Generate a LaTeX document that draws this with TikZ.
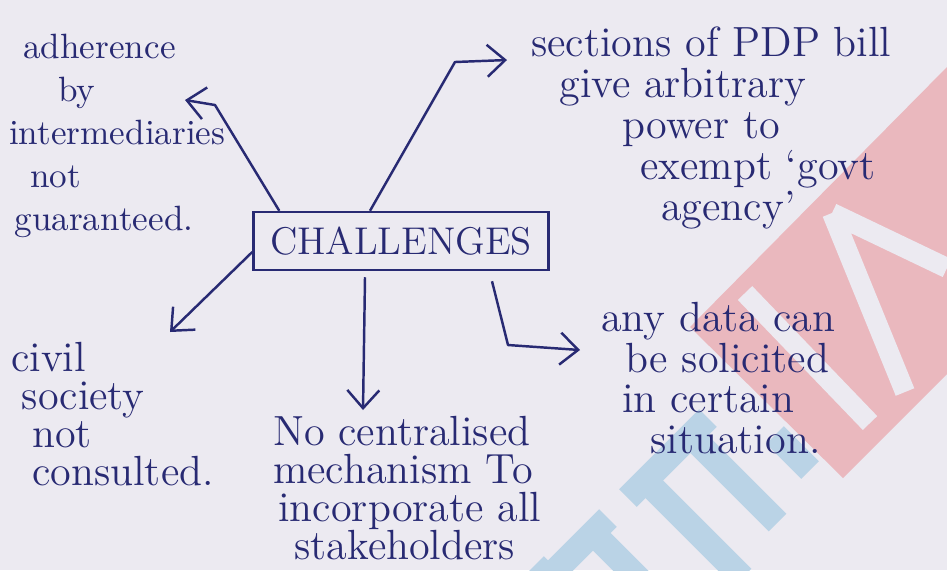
\documentclass[tikz,border=0pt]{standalone}
\usepackage{tikz}
\usetikzlibrary{positioning,arrows.meta}
\definecolor{ink}{RGB}{40,42,115}
\definecolor{paper}{RGB}{236,234,241}
\definecolor{wmpink}{RGB}{234,184,190}
\definecolor{wmblue}{RGB}{186,211,230}

\begin{document}
\begin{tikzpicture}[x=0.1mm,y=-0.1mm,>={Straight Barb[length=1.8mm,width=3.2mm]},
  line width=0.7pt,
  txt/.style={text=ink,font=\fontsize{12}{11.6}\selectfont,inner sep=0pt,
    align=left,anchor=west},
  hub/.style={draw=ink,text=ink,minimum width=29.5mm,minimum height=5.8mm,
    font=\fontsize{11}{11}\selectfont},
  link/.style={draw=ink,->,line join=round}]
  \fill[paper] (0,0) rectangle (947,570);
  \useasboundingbox (0,0) rectangle (947,570);
  % logo in the background
  \fill[wmpink] (947,67) -- (690,327) -- (843,478) -- (947,374) -- cycle;
  \draw[paper,line width=2mm] (832,213) -- (905,392) (832,213) -- (947,268)
    (745,293) -- (870,423);
  \foreach \off/\a/\b in {165/1110/1320,255/1120/1300,60/1110/1220,-30/1100/1160,340/1210/1280}
    \draw[wmblue,line width=2.5mm] ({(\a+\off)/2},{(\a-\off)/2}) -- ({(\b+\off)/2},{(\b-\off)/2});
  \draw[wmblue,line width=2.5mm] (628,498) -- (708,418) (538,588) -- (608,518);

  \node[hub] (chal) at (401,241) {CHALLENGES};
  \node[txt,font=\fontsize{10}{12.2}\selectfont] (adh) at (8,136)
    {\hspace{4pt}adherence\\ \hspace{14pt}by\\ intermediaries\\ \hspace{6pt}not\\ \hspace{1.5pt}guaranteed.};
  \node[txt] (sec) at (530,128)
    {sections of PDP bill\\ \hspace{8pt}give arbitrary\\ \hspace{26pt}power to\\
     \hspace{31pt}exempt `govt\\ \hspace{37pt}agency'};
  \node[txt,font=\fontsize{12}{10.8}\selectfont] (civ) at (10,414)
    {civil\\ \hspace{3pt}society\\ \hspace{6pt}not\\ \hspace{6pt}consulted.};
  \node[txt,font=\fontsize{12}{10.8}\selectfont] (cen) at (272,488)
    {No centralised\\ mechanism To\\ \hspace{1.5pt}incorporate all\\ \hspace{6pt}stakeholders};
  \node[txt] (dat) at (600,378) {any data can\\ \hspace{7pt}be solicited\\ \hspace{6pt}in certain\\ \hspace{14pt}situation.};

  \coordinate (adhBend) at (215,105);
  \coordinate (adhTip) at (185,100);
  \coordinate (secBend) at (455,62);
  \coordinate (secTip) at (507,60);
  \coordinate (civTip) at (170,332);
  \coordinate (cenTip) at (363,410);
  \coordinate (datBend) at (508,345);
  \coordinate (datTip) at (580,350);

  \draw[link] ([xshift=2.7mm]chal.north west) -- (adhBend) -- (adhTip);
  \draw[link] ([xshift=-3.1mm]chal.north) -- (secBend) -- (secTip);
  \draw[link] ([yshift=-1.1mm]chal.west) -- (civTip);
  \draw[link] ([xshift=-3.6mm,yshift=-0.6mm]chal.south) -- (cenTip);
  \draw[link] ([xshift=9.1mm,yshift=-1mm]chal.south) -- (datBend) -- (datTip);
\end{tikzpicture}
\end{document}
